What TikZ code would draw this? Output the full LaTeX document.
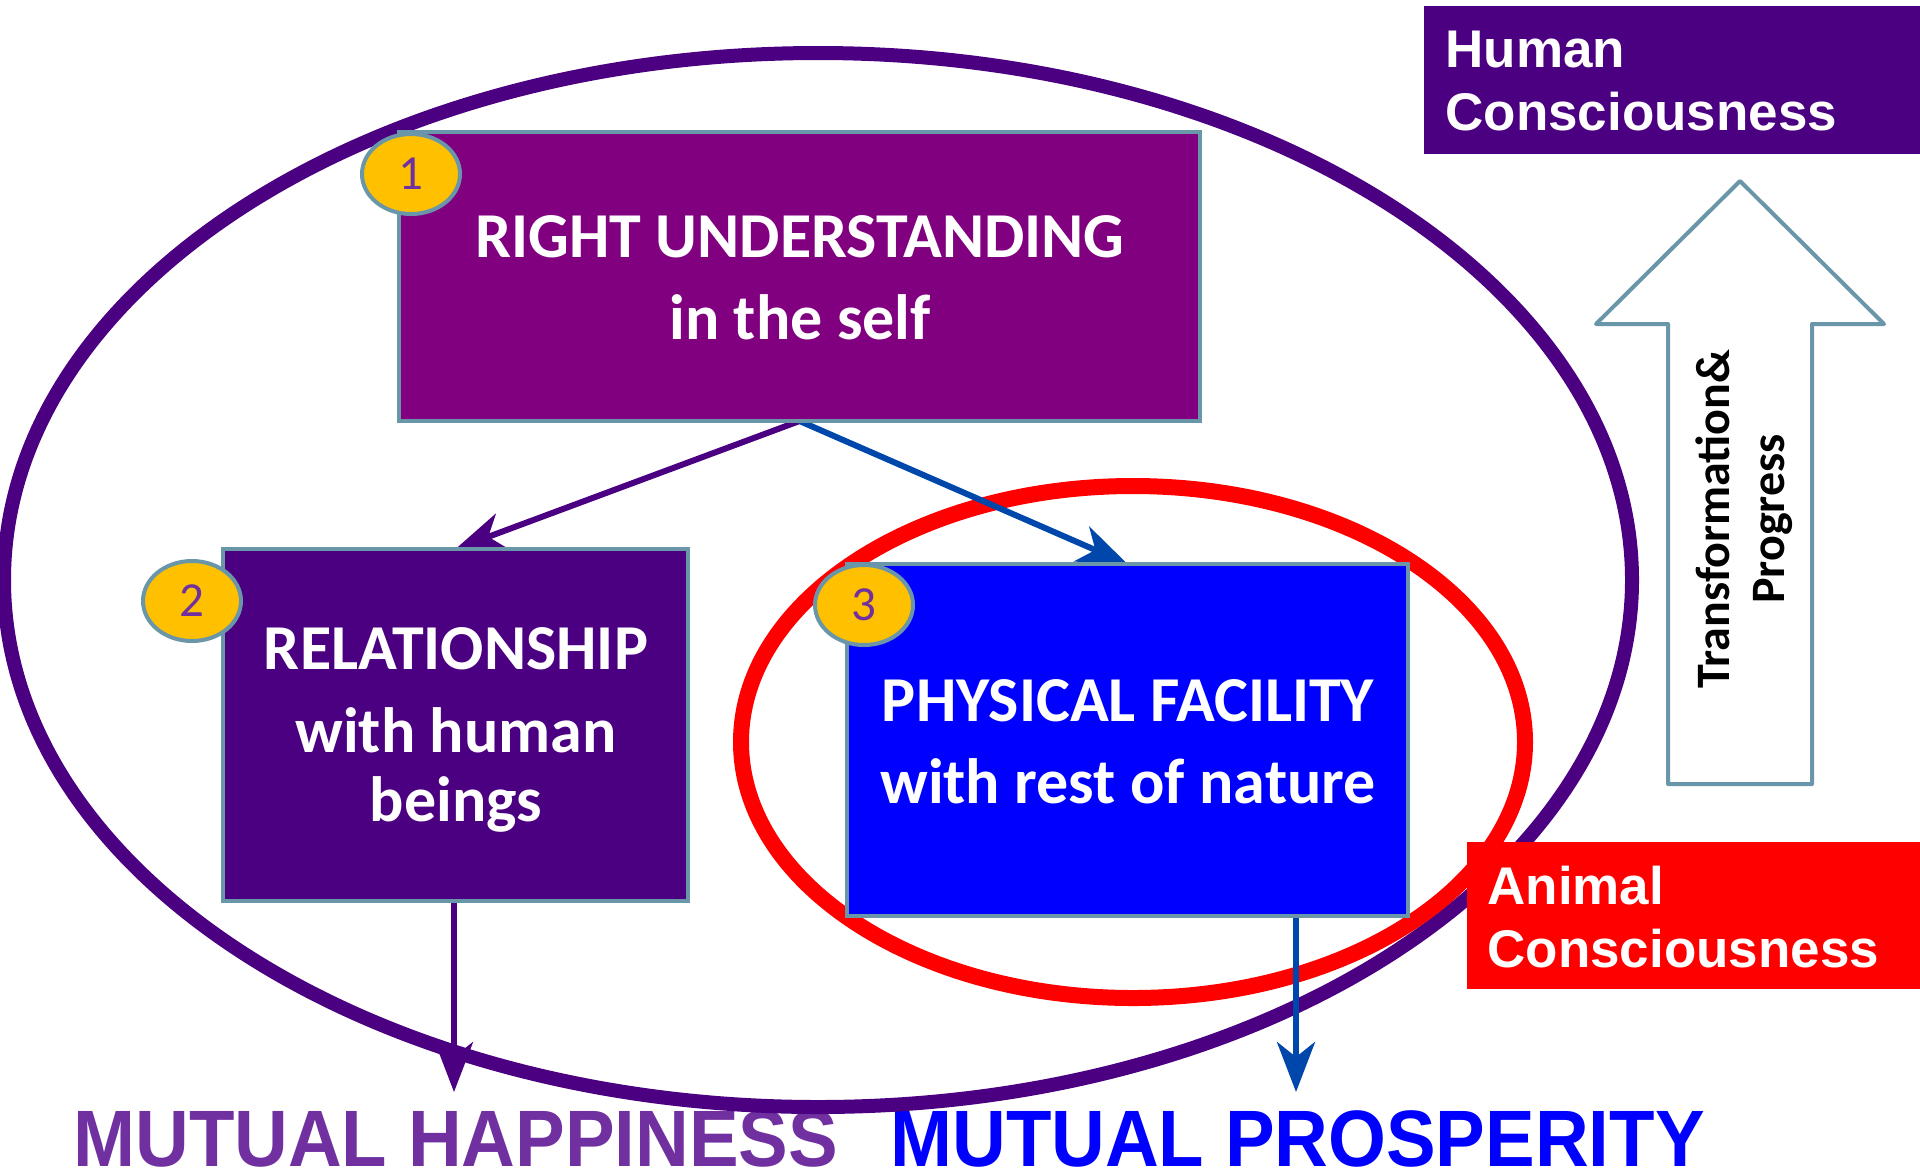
\documentclass[tikz,border=0pt]{standalone}
\usepackage{fontspec}
\usepackage{graphicx}
\setmainfont{Carlito}
\newfontfamily\arialfont{Liberation Sans}
\usetikzlibrary{arrows.meta,shapes.geometric}
\definecolor{boxedge}{RGB}{106,150,170}
\definecolor{rupurple}{RGB}{128,0,128}
\definecolor{indigoC}{RGB}{75,0,130}
\definecolor{pureblue}{RGB}{0,0,255}
\definecolor{cobalt}{RGB}{0,71,171}
\definecolor{goldC}{RGB}{255,192,0}
\definecolor{numpurple}{RGB}{112,48,160}
\definecolor{happy}{RGB}{112,48,160}
\tikzset{
  mainbox/.style={draw=boxedge, line width=2pt, rectangle, inner sep=0pt, outer sep=0pt},
  badge/.style={draw=boxedge, line width=2pt, fill=goldC, ellipse, inner sep=0pt,
    minimum width=49pt, minimum height=40pt, text=numpurple, font=\fontsize{24.5}{26}\selectfont},
  boxtext/.style={text=white, anchor=base, inner sep=0pt, font=\fontsize{32}{36}\selectfont\bfseries},
  sidebox/.style={rectangle, inner sep=0pt, outer sep=0pt},
  sidetext/.style={text=white, anchor=base west, inner sep=0pt, font=\arialfont\fontsize{26.5}{30}\selectfont\bfseries},
  flow/.style={line width=3pt, -{Stealth[length=25pt, width=19pt, inset=7.5pt]}},
  bigtext/.style={anchor=base west, inner sep=0pt, font=\arialfont\fontsize{40}{44}\selectfont\bfseries},
  rottext/.style={anchor=base, rotate=90, inner sep=0pt, font=\fontsize{24}{26}\selectfont\bfseries}
}
\begin{document}
\begin{tikzpicture}[x=0.5pt,y=-0.5pt]
\useasboundingbox (0,0) rectangle (1920,1174);
% bottom texts
\node[bigtext, text=happy] (mh) at (73,1166) {\scalebox{0.93}[1]{MUTUAL HAPPINESS}};
\node[bigtext, text=pureblue] (mp) at (890,1166) {\scalebox{0.93}[1]{MUTUAL PROSPERITY}};
% ellipses
\draw[line width=7pt, indigoC] (818,580) ellipse [x radius=814, y radius=527];
\draw[line width=8pt, red] (1133,742) ellipse [x radius=392, y radius=256];
% boxes
\node[mainbox, fill=rupurple, minimum width=400.5pt, minimum height=144.5pt] (b1) at (799.5,276.5) {};
\node[mainbox, fill=indigoC, minimum width=232.5pt, minimum height=176pt] (b2) at (455.5,725) {};
\node[mainbox, fill=pureblue, minimum width=280.5pt, minimum height=176pt] (b3) at (1127.5,740) {};
% connectors
\coordinate (p2) at (454,1092);
\coordinate (p3) at (1296,1092);
\draw[flow, indigoC] (b1.south) -- (b2.north);
\draw[flow, cobalt] (b1.south) -- (b3.north);
\draw[flow, indigoC] (b2.south -| p2) -- (p2);
\draw[flow, cobalt] (b3.south -| p3) -- (p3);
% redraw boxes on top of arrow roots
\node[mainbox, fill=rupurple, minimum width=400.5pt, minimum height=144.5pt] at (799.5,276.5) {};
\node[mainbox, fill=indigoC, minimum width=232.5pt, minimum height=176pt] at (455.5,725) {};
\node[mainbox, fill=pureblue, minimum width=280.5pt, minimum height=176pt] at (1127.5,740) {};
% box texts
\node[boxtext] (t1a) at (800,257) {RIGHT UNDERSTANDING};
\node[boxtext] (t1b) at (800,339) {in the self};
\node[boxtext] (t2a) at (456,669) {RELATIONSHIP};
\node[boxtext] (t2b) at (456,752) {with human};
\node[boxtext] (t2c) at (456,821) {beings};
\node[boxtext] (t3a) at (1128,721) {PHYSICAL FACILITY};
\node[boxtext] (t3b) at (1128,803) {with rest of nature};
% badges
\node[badge] (n1) at (411,174) {1};
\node[badge] (n2) at (192,601) {2};
\node[badge] (n3) at (864,605) {3};
% side boxes
\node[sidebox, fill=indigoC, minimum width=248pt, minimum height=74pt] (hc) at (1672,80) {};
\node[sidetext] (hc1) at (1445,67) {Human};
\node[sidetext] (hc2) at (1445,130) {Consciousness};
\node[sidebox, fill=red, minimum width=226.5pt, minimum height=73.5pt] (ac) at (1693.5,915.5) {};
\node[sidetext] (ac1) at (1487,904) {Animal};
\node[sidetext] (ac2) at (1487,967) {Consciousness};
% block arrow
\draw[draw=boxedge, fill=white, line width=2pt, line join=round]
  (1740,181) -- (1884,324) -- (1812,324) -- (1812,784) -- (1668,784) -- (1668,324) -- (1596,324) -- cycle;
\node[rottext] (tr1) at (1729,519) {Transformation\&};
\node[rottext] (tr2) at (1784,519) {Progress};
\end{tikzpicture}
\end{document}
